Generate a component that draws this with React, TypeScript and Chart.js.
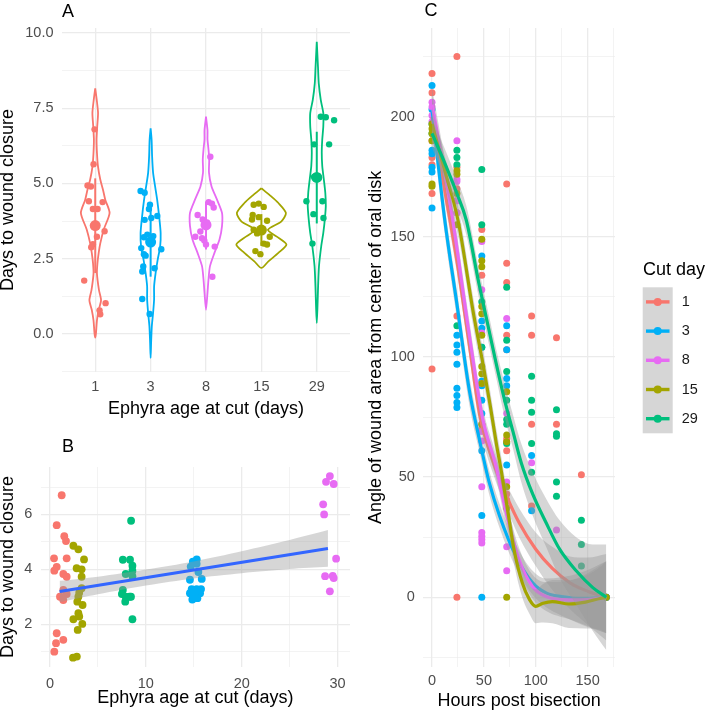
import React, { useEffect, useRef } from 'react';
import { Chart, registerables } from 'chart.js';

Chart.register(...registerables);

const FONT = "'Liberation Sans', Arial, Helvetica, sans-serif";
const INK = '#000000';
const TICK_INK = '#4d4d4d';
const GRID = '#ebebeb';
const SE_FILL = 'rgba(153,153,153,0.4)';

const RED = '#F8766D';
const BLUE = '#00B0F6';
const PINK = '#E76BF3';
const OLIVE = '#A3A500';
const GREEN = '#00BF7D';

// ---------- Panel A: days to closure by age group ----------
const AGE_GROUPS = ['1', '3', '8', '15', '29'];
const AGE_COLORS = [RED, BLUE, PINK, OLIVE, GREEN];

// [jitter (category units), days to wound closure]
const A_POINTS_1 = [[-0.012, 6.8], [-0.03, 5.64], [-0.139, 4.93], [-0.078, 4.9], [-0.115, 4.41], [0.133, 4.38], [-0.042, 4.15], [0.042, 4.15], [0.169, 3.41], [0.03, 3.23], [-0.042, 2.98], [-0.072, 2.88], [-0.199, 1.77], [0.187, 1.02], [0.078, 0.78], [0.09, 0.65]];
const A_POINTS_3 = [[-0.181, 4.75], [-0.108, 4.69], [-0.012, 4.29], [-0.03, 4.15], [0.121, 3.92], [-0.108, 3.79], [0.012, 3.85], [-0.06, 3.3], [-0.121, 3.21], [0.048, 3.25], [-0.03, 3.1], [0.193, 2.81], [-0.169, 2.85], [-0.121, 2.65], [-0.09, 2.6], [-0.133, 2.24], [-0.151, 2.07], [0.072, 2.18], [-0.151, 1.16], [-0.018, 0.66]];
const A_POINTS_8 = [[0.078, 5.89], [-0.151, 3.95], [0.048, 4.38], [0.108, 4.33], [0.139, 4.2], [-0.06, 3.8], [0.018, 3.7], [-0.102, 3.4], [-0.193, 3.23], [-0.072, 3.18], [-0.03, 3.1], [0, 2.97], [0.157, 2.9], [0.115, 1.9]];
const A_POINTS_15 = [[-0.139, 4.29], [-0.048, 4.33], [0.042, 4.22], [-0.157, 3.95], [-0.048, 3.88], [0.102, 3.76], [-0.169, 3.8], [-0.139, 3.46], [-0.078, 3.34], [0.151, 3.23], [0.042, 3.0], [0.102, 2.97], [-0.108, 2.75], [-0.018, 2.65]];
const A_POINTS_29 = [[0.072, 7.22], [0.163, 7.2], [0.313, 7.1], [-0.048, 6.3], [0.223, 6.3], [-0.048, 5.22], [-0.187, 4.41], [0.102, 4.41], [-0.06, 3.98], [0.121, 3.85], [-0.078, 3.0]];
const A_POINTS = [A_POINTS_1, A_POINTS_3, A_POINTS_8, A_POINTS_15, A_POINTS_29];

// violin density outlines: levels (days, top to bottom) and half-widths (category units)
const V_LEVELS_1 = [8.16, 7.78, 7.34, 6.9, 6.46, 6.02, 5.58, 5.14, 4.8, 4.46, 4.02, 3.47, 3.0, 2.7, 2.35, 2.0, 1.46, 1.12, 0.8, 0.45, 0.01, -0.13];
const V_WIDTH_1 = [0, 0.027, 0.051, 0.036, 0.024, 0.031, 0.049, 0.09, 0.139, 0.181, 0.259, 0.154, 0.09, 0.063, 0.04, 0.031, 0.067, 0.105, 0.063, 0.031, 0.013, 0];
const V_LEVELS_3 = [6.83, 6.45, 5.9, 5.35, 4.9, 4.46, 3.9, 3.35, 2.9, 2.46, 2.02, 1.58, 1.15, 0.7, 0.26, -0.3, -0.8];
const V_WIDTH_3 = [0, 0.018, 0.027, 0.045, 0.081, 0.118, 0.154, 0.181, 0.172, 0.127, 0.09, 0.063, 0.063, 0.045, 0.022, 0.009, 0];
const V_LEVELS_8 = [7.22, 6.77, 6.46, 6.13, 5.8, 5.36, 4.91, 4.46, 4.02, 3.58, 3.14, 2.7, 2.25, 1.81, 1.37, 0.8];
const V_WIDTH_8 = [0, 0.027, 0.027, 0.045, 0.058, 0.054, 0.099, 0.199, 0.289, 0.289, 0.244, 0.154, 0.072, 0.045, 0.027, 0];
const V_LEVELS_15 = [4.84, 4.62, 4.35, 4.02, 3.74, 3.46, 3.24, 2.97, 2.69, 2.41, 2.19];
const V_WIDTH_15 = [0, 0.145, 0.307, 0.443, 0.362, 0.118, 0.271, 0.452, 0.307, 0.127, 0];
const V_LEVELS_29 = [9.71, 8.88, 8.33, 7.78, 7.34, 6.9, 6.46, 6.02, 5.58, 5.14, 4.69, 4.25, 3.8, 3.36, 2.92, 2.25, 1.58, 0.91, 0.36];
const V_WIDTH_29 = [0, 0.022, 0.036, 0.072, 0.118, 0.118, 0.099, 0.09, 0.099, 0.127, 0.154, 0.163, 0.145, 0.118, 0.081, 0.04, 0.024, 0.013, 0];
const V_LEVELS = [V_LEVELS_1, V_LEVELS_3, V_LEVELS_8, V_LEVELS_15, V_LEVELS_29];
const V_WIDTHS = [V_WIDTH_1, V_WIDTH_3, V_WIDTH_8, V_WIDTH_15, V_WIDTH_29];

// mean and mean +/- sd per group
const A_MEAN = [3.6, 3.05, 3.62, 3.45, 5.2];
const A_SD_LOW = [2.02, 1.9, 2.8, 2.92, 3.67];
const A_SD_HIGH = [5.17, 4.17, 4.4, 3.98, 6.72];

const A_Y_TICKS = [-1.25, 0, 1.25, 2.5, 3.75, 5, 6.25, 7.5, 8.75, 10];

// ---------- Panel B: closure vs age (jittered), linear fit ----------
const B_RED = [[1.22, 6.7], [0.7, 5.61], [1.49, 5.21], [1.67, 5.03], [0.42, 4.4], [1.74, 4.4], [0.7, 4.09], [0.45, 3.95], [1.39, 3.83], [1.74, 3.73], [1.39, 3.25], [1.04, 3.0], [1.39, 2.88], [1.74, 3.1], [0.7, 1.67], [0.63, 1.31], [1.39, 1.43], [0.45, 1.0]];
const B_OLIVE = [[2.44, 4.86], [2.96, 4.73], [3.55, 4.36], [2.78, 4.04], [3.3, 4.0], [3.3, 3.73], [3.3, 3.31], [3.05, 3.15], [2.96, 3.0], [2.85, 2.82], [3.4, 2.7], [2.96, 2.4], [2.44, 2.18], [3.05, 2.28], [3.37, 2.01], [2.89, 1.79], [2.4, 0.78], [2.8, 0.82]];
const B_GREEN = [[8.46, 5.77], [7.6, 4.35], [8.35, 4.35], [8.6, 4.13], [8.6, 3.95], [7.9, 3.83], [8.6, 3.75], [7.6, 3.25], [7.5, 3.1], [7.9, 3.0], [8.3, 3.0], [8.45, 3.0], [7.85, 2.82], [8.6, 2.18]];
const B_BLUE = [[15.31, 4.36], [14.9, 4.28], [15.3, 4.2], [14.68, 4.1], [15.48, 3.9], [15.83, 3.65], [14.6, 3.62], [14.78, 3.28], [15.3, 3.28], [15.76, 3.28], [14.6, 3.13], [15.66, 3.13], [15.13, 3.08], [14.85, 2.9], [15.38, 2.95]];
const B_PINK = [[29.2, 7.4], [28.8, 7.19], [29.6, 7.11], [28.5, 6.37], [28.6, 6.0], [29.85, 4.39], [28.7, 3.75], [29.5, 3.76], [29.6, 3.68], [29.2, 3.2]];
const B_GROUPS = [B_RED, B_OLIVE, B_GREEN, B_BLUE, B_PINK];
const B_COLORS = [RED, OLIVE, GREEN, BLUE, PINK];

const B_FIT_X = [1, 29];
const B_FIT_Y = [3.19, 4.76];
const B_BAND_X = [1, 5, 10, 15, 20, 25, 29];
const B_BAND_LOW = [2.8, 3.09, 3.41, 3.67, 3.86, 4.01, 4.09];
const B_BAND_HIGH = [3.58, 3.73, 3.99, 4.29, 4.66, 5.07, 5.43];

// ---------- Panel C: wound angle over time by cut day ----------
const CUT_DAYS = ['1', '3', '8', '15', '29'];
const CUT_COLORS = [RED, BLUE, PINK, OLIVE, GREEN];

// [hours post bisection, angle]
const C_PTS_1 = [[0, 218], [0, 210], [0, 190], [0, 183], [0, 180], [0, 168], [0, 95], [24, 225], [24, 179], [24, 170], [24, 165], [24, 160], [24, 117], [24, 0], [48, 153], [48, 134], [48, 72], [48, 70], [72, 172], [72, 139], [72, 131], [72, 109], [72, 103], [72, 66], [72, 64.7], [72, 61], [72, 43], [72, 40.5], [96, 117], [96, 109], [96, 72], [96, 38], [120, 108], [120, 72], [144, 51], [168, 0]];
const C_PTS_3 = [[0, 213], [0, 203], [0, 186], [0, 184.6], [0, 179], [0, 177], [0, 162], [24, 109], [24, 105], [24, 102], [24, 97], [24, 87], [24, 84], [24, 81], [24, 79], [48, 142], [48, 115], [48, 112], [48, 104], [48, 90], [48, 88], [48, 82], [48, 76.5], [48, 61], [48, 34], [48, 0], [72, 113], [72, 103], [72, 91], [72, 88], [72, 55], [96, 59], [96, 36], [168, 0]];
const C_PTS_8 = [[0, 206], [0, 204], [0, 200.5], [0, 198], [24, 190], [24, 174], [24, 173], [24, 165], [24, 160], [48, 148], [48, 128], [48, 110], [48, 89], [48, 69], [48, 65], [48, 46], [48, 27], [48, 25.4], [48, 24], [48, 22.6], [72, 116], [72, 76.5], [72, 48], [72, 21], [72, 11], [96, 56], [120, 28], [168, 0]];
const C_PTS_15 = [[0, 197], [0, 195], [0, 193], [0, 190], [0, 172], [0, 171], [24, 177.5], [24, 176], [24, 168], [24, 155], [48, 149], [48, 140], [48, 137.5], [48, 121], [48, 118], [48, 109], [48, 96], [48, 93], [48, 89], [48, 72], [72, 85.5], [72, 67.5], [72, 64.7], [72, 46], [72, 37], [72, 0], [168, 0]];
const C_PTS_29 = [[0, 197], [0, 193], [24, 186], [24, 183], [24, 180], [24, 113], [48, 178], [48, 155], [48, 123], [48, 104], [72, 129], [72, 107], [72, 94], [72, 82], [72, 74], [72, 72], [72, 64], [96, 92], [96, 82], [96, 77], [96, 64], [96, 52], [120, 78], [120, 68], [120, 67], [120, 48], [120, 42], [144, 32], [144, 22], [144, 13], [168, 0]];
const C_POINTS = [C_PTS_1, C_PTS_3, C_PTS_8, C_PTS_15, C_PTS_29];

// smoothed fits: hours, fitted angle, standard-error band half-width
const FIT_H_1 = [0, 12, 24, 36, 46, 60, 72, 84, 100, 116, 133, 150, 168];
const FIT_1 = [200, 170, 140, 105, 76, 55, 42, 31, 20, 12, 6, 2.5, 0];
const SE_1 = [6, 5, 5, 5, 5, 5, 5, 6, 7, 9, 11, 14, 18];
const FIT_H_3 = [0, 12, 24, 36, 46, 55, 65, 81, 97, 110, 125, 145, 168];
const FIT_3 = [203, 158, 122, 86, 65, 48, 34, 17, 6, 1.8, 0.3, -0.5, 0];
const SE_3 = [7, 6, 6, 6, 5, 5, 5, 5, 5, 6, 8, 11, 15];
const FIT_H_8 = [0, 10, 20, 35, 49, 62, 71, 84, 97, 110, 132, 150, 168];
const FIT_8 = [205, 182, 157, 112, 74, 54, 36, 15.5, 4.4, 0.3, -1.1, -1, 0];
const SE_8 = [7, 6, 6, 6, 5, 5, 5, 5, 5, 6, 8, 11, 15];
const FIT_H_15 = [0, 12, 25, 40, 50, 56, 62, 67, 73, 79, 87, 94, 100, 107, 116, 132, 148, 162, 168];
const FIT_15 = [197, 178, 157, 118, 95, 80, 64, 52, 36, 20, 6, -1, -3.8, -2.5, -1.8, -2.8, -2, -0.5, 0];
const SE_15 = [7, 6, 6, 6, 6, 6, 6, 6, 6, 6, 6, 6, 7, 8, 9, 10, 11, 13, 15];
const FIT_H_29 = [0, 12, 24, 33, 45, 55, 62, 70, 78, 86, 97, 110, 123, 139, 155, 168];
const FIT_29 = [193, 181, 168, 157, 131, 111, 97, 82, 69, 56, 43, 31, 20, 11, 4, 0];
const SE_29 = [6, 6, 6, 6, 6, 6, 6, 7, 7, 8, 9, 10, 12, 14, 18, 22];
const FIT_HOURS = [FIT_H_1, FIT_H_3, FIT_H_8, FIT_H_15, FIT_H_29];
const FIT_ANGLE = [FIT_1, FIT_3, FIT_8, FIT_15, FIT_29];
const FIT_SE = [SE_1, SE_3, SE_8, SE_15, SE_29];

// ---------- helpers ----------
const near = (v: number, step: number) => Math.abs(v / step - Math.round(v / step)) < 1e-6;

function linearAxis(cfg: {
  min: number; max: number; ticks: number[]; major: number; label: (v: number) => string;
  title: string; horizontal: boolean; thickness: number; tickPadding: number;
  titlePadding: any; titleLineHeight: number;
}) {
  return {
    type: 'linear',
    bounds: 'data',
    min: cfg.min,
    max: cfg.max,
    afterBuildTicks: (scale: any) => {
      scale.ticks = cfg.ticks.map((v) => ({ value: v }));
    },
    afterFit: (scale: any) => {
      if (cfg.horizontal) scale.height = cfg.thickness;
      else scale.width = cfg.thickness;
    },
    border: { display: false },
    grid: {
      color: GRID,
      drawTicks: false,
      lineWidth: (c: any) => (c.tick && near(c.tick.value, cfg.major) ? 1.3 : 0.6),
    },
    ticks: {
      autoSkip: false,
      maxRotation: 0,
      padding: cfg.tickPadding,
      color: TICK_INK,
      font: { family: FONT, size: 14.5 },
      callback: (v: any) => (near(Number(v), cfg.major) ? cfg.label(Number(v)) : ''),
    },
    title: {
      display: true,
      text: cfg.title,
      color: INK,
      font: { family: FONT, size: 18, lineHeight: cfg.titleLineHeight },
      padding: cfg.titlePadding,
    },
  };
}

const panelTag = {
  id: 'panelTag',
  afterDraw(chart: any, _args: any, opts: any) {
    if (!opts || !opts.text) return;
    const ctx = chart.ctx;
    ctx.save();
    ctx.font = `18px ${FONT}`;
    ctx.fillStyle = INK;
    ctx.textAlign = 'left';
    ctx.textBaseline = 'alphabetic';
    ctx.fillText(opts.text, opts.x, opts.y);
    ctx.restore();
  },
};

const cutDayLegend = {
  id: 'cutDayLegend',
  afterDraw(chart: any) {
    const ctx = chart.ctx;
    const left = 283;
    const keyTop = 287.3;
    const keyH = 29.2;
    ctx.save();
    ctx.font = `18px ${FONT}`;
    ctx.fillStyle = INK;
    ctx.textAlign = 'left';
    ctx.textBaseline = 'alphabetic';
    ctx.fillText('Cut day', left, 275);
    ctx.fillStyle = '#d6d6d6';
    ctx.fillRect(left - 0.3, keyTop, 30, keyH * CUT_DAYS.length);
    CUT_DAYS.forEach((label, i) => {
      const cy = keyTop + keyH * (i + 0.5);
      ctx.strokeStyle = CUT_COLORS[i];
      ctx.lineWidth = 3.4;
      ctx.beginPath();
      ctx.moveTo(left + 3, cy);
      ctx.lineTo(left + 26.5, cy);
      ctx.stroke();
      ctx.fillStyle = CUT_COLORS[i];
      ctx.beginPath();
      ctx.arc(left + 14.7, cy, 4, 0, Math.PI * 2);
      ctx.fill();
      ctx.fillStyle = '#1a1a1a';
      ctx.font = `14.5px ${FONT}`;
      ctx.textBaseline = 'middle';
      ctx.fillText(label, left + 38.7, cy);
    });
    ctx.restore();
  },
};

// lower datasets in the list are painted first
function stack(datasets: any[]) {
  const n = datasets.length;
  return datasets.map((d, i) => ({ ...d, order: n - i }));
}

const baseOptions = {
  animation: false,
  responsive: false,
  maintainAspectRatio: false,
  events: [],
};

// ---------- chart configs ----------
function configA(): any {
  const sets: any[] = [];
  AGE_GROUPS.forEach((_, i) => {
    const levels = V_LEVELS[i];
    const widths = V_WIDTHS[i];
    const right = levels.map((lv, k) => ({ x: i + widths[k], y: lv }));
    const left = levels.map((lv, k) => ({ x: i - widths[k], y: lv })).reverse();
    sets.push({
      type: 'line',
      data: [...right, ...left.slice(1)],
      borderColor: AGE_COLORS[i],
      borderWidth: 1.8,
      pointRadius: 0,
      fill: false,
      tension: 0.25,
    });
  });
  AGE_GROUPS.forEach((_, i) => {
    sets.push({
      type: 'scatter',
      data: A_POINTS[i].map(([j, d]) => ({ x: i + j, y: d })),
      backgroundColor: AGE_COLORS[i],
      borderWidth: 0,
      pointRadius: 3.2,
    });
  });
  AGE_GROUPS.forEach((_, i) => {
    sets.push({
      type: 'line',
      data: [{ x: i, y: A_SD_LOW[i] }, { x: i, y: A_SD_HIGH[i] }],
      borderColor: AGE_COLORS[i],
      borderWidth: 2,
      pointRadius: 0,
      fill: false,
    });
    sets.push({
      type: 'scatter',
      data: [{ x: i, y: A_MEAN[i] }],
      backgroundColor: AGE_COLORS[i],
      borderWidth: 0,
      pointRadius: 5.5,
    });
  });

  return {
    type: 'scatter',
    data: { datasets: stack(sets) },
    options: {
      ...baseOptions,
      layout: { padding: { left: 0, top: 28, right: 10, bottom: 0 } },
      plugins: {
        legend: { display: false },
        tooltip: { enabled: false },
        panelTag: { text: 'A', x: 62, y: 17 },
      },
      scales: {
        x: linearAxis({
          min: -0.6, max: 4.6, ticks: [0, 1, 2, 3, 4], major: 1,
          label: (v) => AGE_GROUPS[Math.round(v)] ?? '',
          title: 'Ephyra age at cut (days)', horizontal: true, thickness: 48,
          tickPadding: 6.2, titlePadding: { top: 0, bottom: 1.5 }, titleLineHeight: 1,
        }),
        y: linearAxis({
          min: -1.27, max: 10.17, ticks: A_Y_TICKS, major: 2.5,
          label: (v) => v.toFixed(1),
          title: 'Days to wound closure', horizontal: false, thickness: 62,
          tickPadding: 8.5, titlePadding: { top: 0, bottom: 0 }, titleLineHeight: 0.9,
        }),
      },
    },
    plugins: [panelTag],
  };
}

function configB(): any {
  const sets: any[] = [];
  B_GROUPS.forEach((pts, i) => {
    sets.push({
      type: 'scatter',
      data: pts.map(([x, y]) => ({ x, y })),
      backgroundColor: B_COLORS[i],
      borderWidth: 0,
      pointRadius: 3.9,
    });
  });
  sets.push({
    type: 'line',
    data: B_BAND_X.map((x, k) => ({ x, y: B_BAND_HIGH[k] })),
    borderWidth: 0,
    pointRadius: 0,
    fill: false,
    tension: 0.3,
  });
  sets.push({
    type: 'line',
    data: B_BAND_X.map((x, k) => ({ x, y: B_BAND_LOW[k] })),
    borderWidth: 0,
    pointRadius: 0,
    backgroundColor: SE_FILL,
    fill: '-1',
    tension: 0.3,
  });
  sets.push({
    type: 'line',
    data: B_FIT_X.map((x, k) => ({ x, y: B_FIT_Y[k] })),
    borderColor: '#3366FF',
    borderWidth: 3,
    pointRadius: 0,
    fill: false,
  });

  return {
    type: 'scatter',
    data: { datasets: stack(sets) },
    options: {
      ...baseOptions,
      layout: { padding: { left: 0, top: 47, right: 10, bottom: 0 } },
      plugins: {
        legend: { display: false },
        tooltip: { enabled: false },
        panelTag: { text: 'B', x: 62, y: 32 },
      },
      scales: {
        x: linearAxis({
          min: -0.97, max: 31.3, ticks: [0, 5, 10, 15, 20, 25, 30], major: 10,
          label: (v) => String(v),
          title: 'Ephyra age at cut (days)', horizontal: true, thickness: 46,
          tickPadding: 8.5, titlePadding: { top: 0, bottom: 6 }, titleLineHeight: 1,
        }),
        y: linearAxis({
          min: 0.44, max: 7.73, ticks: [1, 2, 3, 4, 5, 6, 7], major: 2,
          label: (v) => String(v),
          title: 'Days to wound closure', horizontal: false, thickness: 40.7,
          tickPadding: 8.5, titlePadding: { top: 0, bottom: 0 }, titleLineHeight: 0.9,
        }),
      },
    },
    plugins: [panelTag],
  };
}

function configC(): any {
  const sets: any[] = [];
  // points, painted in this order
  [0, 1, 2, 4, 3].forEach((i) => {
    sets.push({
      type: 'scatter',
      data: C_POINTS[i].map(([h, a]) => ({ x: h, y: a })),
      backgroundColor: CUT_COLORS[i],
      borderWidth: 0,
      pointRadius: 3.5,
    });
  });
  // one ribbon + line per cut day
  CUT_DAYS.forEach((_, i) => {
    const hrs = FIT_HOURS[i];
    const fit = FIT_ANGLE[i];
    const se = FIT_SE[i];
    sets.push({
      type: 'line',
      data: hrs.map((h, k) => ({ x: h, y: fit[k] + se[k] })),
      borderWidth: 0,
      pointRadius: 0,
      fill: false,
      cubicInterpolationMode: 'monotone',
    });
    sets.push({
      type: 'line',
      data: hrs.map((h, k) => ({ x: h, y: fit[k] - se[k] })),
      borderWidth: 0,
      pointRadius: 0,
      backgroundColor: SE_FILL,
      fill: '-1',
      cubicInterpolationMode: 'monotone',
    });
    sets.push({
      type: 'line',
      data: hrs.map((h, k) => ({ x: h, y: fit[k] })),
      borderColor: CUT_COLORS[i],
      borderWidth: 3.2,
      pointRadius: 0,
      fill: false,
      cubicInterpolationMode: 'monotone',
    });
  });

  return {
    type: 'scatter',
    data: { datasets: stack(sets) },
    options: {
      ...baseOptions,
      layout: { padding: { left: 0, top: 28, right: 94, bottom: 0 } },
      plugins: {
        legend: { display: false },
        tooltip: { enabled: false },
        panelTag: { text: 'C', x: 64.5, y: 16 },
      },
      scales: {
        x: linearAxis({
          min: -8.4, max: 176.4, ticks: [0, 25, 50, 75, 100, 125, 150, 175], major: 50,
          label: (v) => String(v),
          title: 'Hours post bisection', horizontal: true, thickness: 46.3,
          tickPadding: 5.8, titlePadding: { top: 0, bottom: 3.2 }, titleLineHeight: 1,
        }),
        y: linearAxis({
          min: -28.9, max: 236.9, ticks: [-25, 0, 25, 50, 75, 100, 125, 150, 175, 200, 225], major: 50,
          label: (v) => String(v),
          title: 'Angle of wound area from center of oral disk', horizontal: false, thickness: 63.3,
          tickPadding: 8.5, titlePadding: { top: 7.9, bottom: 0 }, titleLineHeight: 0.9,
        }),
      },
    },
    plugins: [panelTag, cutDayLegend],
  };
}

export default function App() {
  const refA = useRef<HTMLCanvasElement>(null);
  const refB = useRef<HTMLCanvasElement>(null);
  const refC = useRef<HTMLCanvasElement>(null);

  useEffect(() => {
    const a = new Chart(refA.current as HTMLCanvasElement, configA());
    const b = new Chart(refB.current as HTMLCanvasElement, configB());
    const c = new Chart(refC.current as HTMLCanvasElement, configC());
    return () => {
      a.destroy();
      b.destroy();
      c.destroy();
    };
  }, []);

  return (
    <div style={{ position: 'fixed', left: 0, top: 0, width: 709, height: 713, background: '#ffffff', overflow: 'hidden' }}>
      <canvas ref={refA} width={360} height={420} style={{ position: 'absolute', left: 0, top: 0 }} />
      <canvas ref={refB} width={360} height={293} style={{ position: 'absolute', left: 0, top: 420 }} />
      <canvas ref={refC} width={349} height={713} style={{ position: 'absolute', left: 360, top: 0 }} />
    </div>
  );
}
